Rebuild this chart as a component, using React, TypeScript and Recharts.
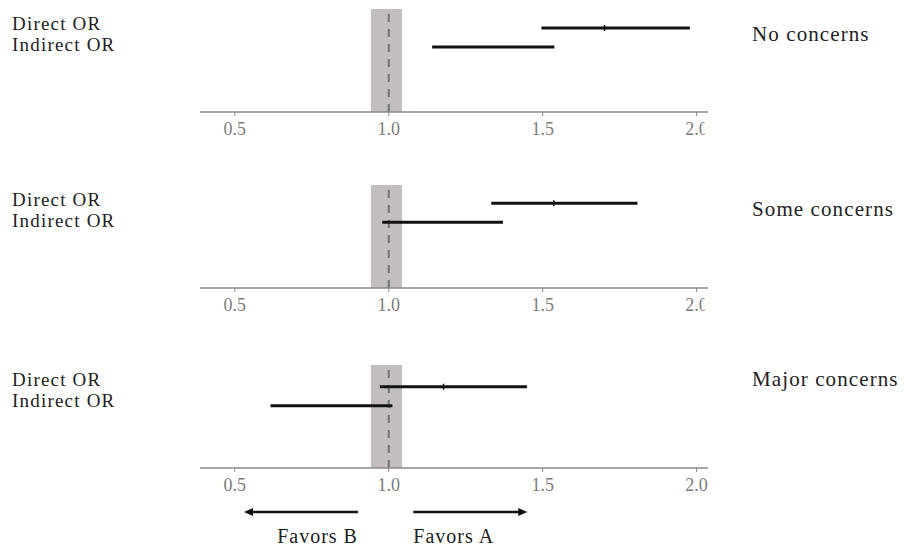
import React from 'react';
import { ComposedChart, Scatter, XAxis, YAxis, ReferenceArea, ReferenceLine } from 'recharts';

// ---- data ----
const panelLabels = ['No concerns', 'Some concerns', 'Major concerns'];
const rowLabels = ['Direct OR', 'Indirect OR'];
const directLow = [1.496, 1.333, 0.971];
const directEst = [1.701, 1.536, 1.178];
const directHigh = [1.978, 1.808, 1.449];
const indirectLow = [1.141, 0.979, 0.616];
const indirectHigh = [1.538, 1.371, 1.012];
const xTicks = [0.5, 1.0, 1.5, 2.0];
const ropeBand = [0.942, 1.043];
const nullValue = 1.0;
const favorsLabels = ['Favors B', 'Favors A'];
const favorsB = [0.90, 0.53];
const favorsA = [1.08, 1.45];

// ---- layout ----
const W = 904;
const FONT = '"Liberation Serif", "Times New Roman", serif';
const X_DOMAIN: [number, number] = [0.387, 2.037];
const chartTops = [0, 176, 356];
const rowOffsets = [19, 18.3, 21.7];
const PLOT_TOP = 9;
const PLOT_H = 103;
const ROW_PX = 19;
const rightLabelBaselines = [40.7, 216, 385.7];
const ARROW_Y_PX = 512;

function yDomain(i: number): [number, number] {
  const min = 1 - rowOffsets[i] / ROW_PX;
  return [min, min + PLOT_H / ROW_PX];
}

const EstTick = (props: any) => {
  const { cx, cy } = props;
  if (cx == null || cy == null) return <g />;
  return <line x1={cx} x2={cx} y1={cy - 3} y2={cy + 3} stroke="#111" strokeWidth={1.5} />;
};

const NoShape = () => <g />;

const makeTick = (panel: number, clipLast: boolean) => (props: any) => {
  const { x, y, payload } = props;
  const label = Number(payload.value).toFixed(1);
  const clip = clipLast && payload.value === xTicks[xTicks.length - 1];
  const id = `tickclip-${panel}`;
  return (
    <g>
      {clip && (
        <defs>
          <clipPath id={id}>
            <rect x={x - 20} y={y - 5} width={28} height={30} />
          </clipPath>
        </defs>
      )}
      <text
        x={x}
        y={y}
        dy="0.71em"
        textAnchor="middle"
        fill="#7c7c7c"
        fontSize={18}
        fontFamily={FONT}
        clipPath={clip ? `url(#${id})` : undefined}
      >
        {label}
      </text>
    </g>
  );
};

const Arrow = (props: any) => {
  const { x1, y1, x2, y2, text } = props;
  if (x1 == null || x2 == null) return <g />;
  const dir = x2 > x1 ? 1 : -1;
  const headLen = 9;
  const headHalf = 4;
  return (
    <g>
      <line x1={x1} y1={y1} x2={x2 - dir * (headLen - 1)} y2={y2} stroke="#111" strokeWidth={2.5} />
      <polygon
        points={`${x2},${y2} ${x2 - dir * headLen},${y2 - headHalf} ${x2 - dir * headLen},${y2 + headHalf}`}
        fill="#111"
      />
      <text
        x={x1}
        y={y1 + 31}
        textAnchor={dir < 0 ? 'end' : 'start'}
        fontFamily={FONT}
        fontSize={20}
        letterSpacing={1}
        fill="#222"
      >
        {text}
      </text>
    </g>
  );
};

function Panel({ i }: { i: number }) {
  const last = i === panelLabels.length - 1;
  const height = last ? 554 - chartTops[i] : 152;
  const dom = yDomain(i);
  const arrowY = dom[0] + (ARROW_Y_PX - chartTops[i] - PLOT_TOP) / ROW_PX;
  const directCI = [
    { x: directLow[i], y: 1 },
    { x: directHigh[i], y: 1 },
  ];
  const indirectCI = [
    { x: indirectLow[i], y: 2 },
    { x: indirectHigh[i], y: 2 },
  ];
  const est = [{ x: directEst[i], y: 1 }];
  return (
    <div style={{ position: 'absolute', left: 0, top: chartTops[i] }}>
      <ComposedChart
        width={W}
        height={height}
        margin={{ top: PLOT_TOP, right: W - 708, left: 200, bottom: 0 }}
      >
        <XAxis
          type="number"
          dataKey="x"
          domain={X_DOMAIN}
          allowDataOverflow
          ticks={xTicks}
          axisLine={{ stroke: '#8a8a8a', strokeWidth: 1.5 }}
          tickLine={{ stroke: '#8a8a8a', strokeWidth: 1 }}
          tickSize={4}
          tickMargin={6}
          height={height - PLOT_TOP - PLOT_H}
          tick={makeTick(i, !last)}
          interval={0}
        />
        <YAxis type="number" dataKey="y" domain={dom} allowDataOverflow reversed hide />
        <ReferenceArea x1={ropeBand[0]} x2={ropeBand[1]} fill="#c2bebe" fillOpacity={1} stroke="none" />
        <ReferenceLine x={nullValue} stroke="#727272" strokeWidth={2} strokeDasharray="8 7" />
        <Scatter
          data={directCI}
          line={{ stroke: '#111', strokeWidth: 3 }}
          shape={NoShape}
          fill="#111"
          isAnimationActive={false}
        />
        <Scatter
          data={indirectCI}
          line={{ stroke: '#111', strokeWidth: 3 }}
          shape={NoShape}
          fill="#111"
          isAnimationActive={false}
        />
        <Scatter data={est} shape={EstTick} fill="#111" isAnimationActive={false} />
        {last && (
          <ReferenceLine
            segment={[
              { x: favorsB[0], y: arrowY },
              { x: favorsB[1], y: arrowY },
            ]}
            ifOverflow="visible"
            shape={(p: any) => <Arrow {...p} text={favorsLabels[0]} />}
          />
        )}
        {last && (
          <ReferenceLine
            segment={[
              { x: favorsA[0], y: arrowY },
              { x: favorsA[1], y: arrowY },
            ]}
            ifOverflow="visible"
            shape={(p: any) => <Arrow {...p} text={favorsLabels[1]} />}
          />
        )}
      </ComposedChart>
    </div>
  );
}

export default function App() {
  return (
    <div style={{ position: 'absolute', left: 0, top: 0, width: W, height: 554, background: '#fff' }}>
      {panelLabels.map((_, i) => (
        <Panel key={i} i={i} />
      ))}
      <svg
        width={W}
        height={554}
        style={{ position: 'absolute', left: 0, top: 0, pointerEvents: 'none' }}
      >
        {panelLabels.map((lab, i) => {
          const bandTop = chartTops[i] + PLOT_TOP;
          return (
            <g key={i} fontFamily={FONT} fill="#222">
              <text x={12} y={bandTop + 21} fontSize={19} letterSpacing={1.2}>
                {rowLabels[0]}
              </text>
              <text x={12} y={bandTop + 42} fontSize={19} letterSpacing={1.2}>
                {rowLabels[1]}
              </text>
              <text x={752} y={rightLabelBaselines[i]} fontSize={21} letterSpacing={1.1}>
                {lab}
              </text>
            </g>
          );
        })}
      </svg>
    </div>
  );
}
